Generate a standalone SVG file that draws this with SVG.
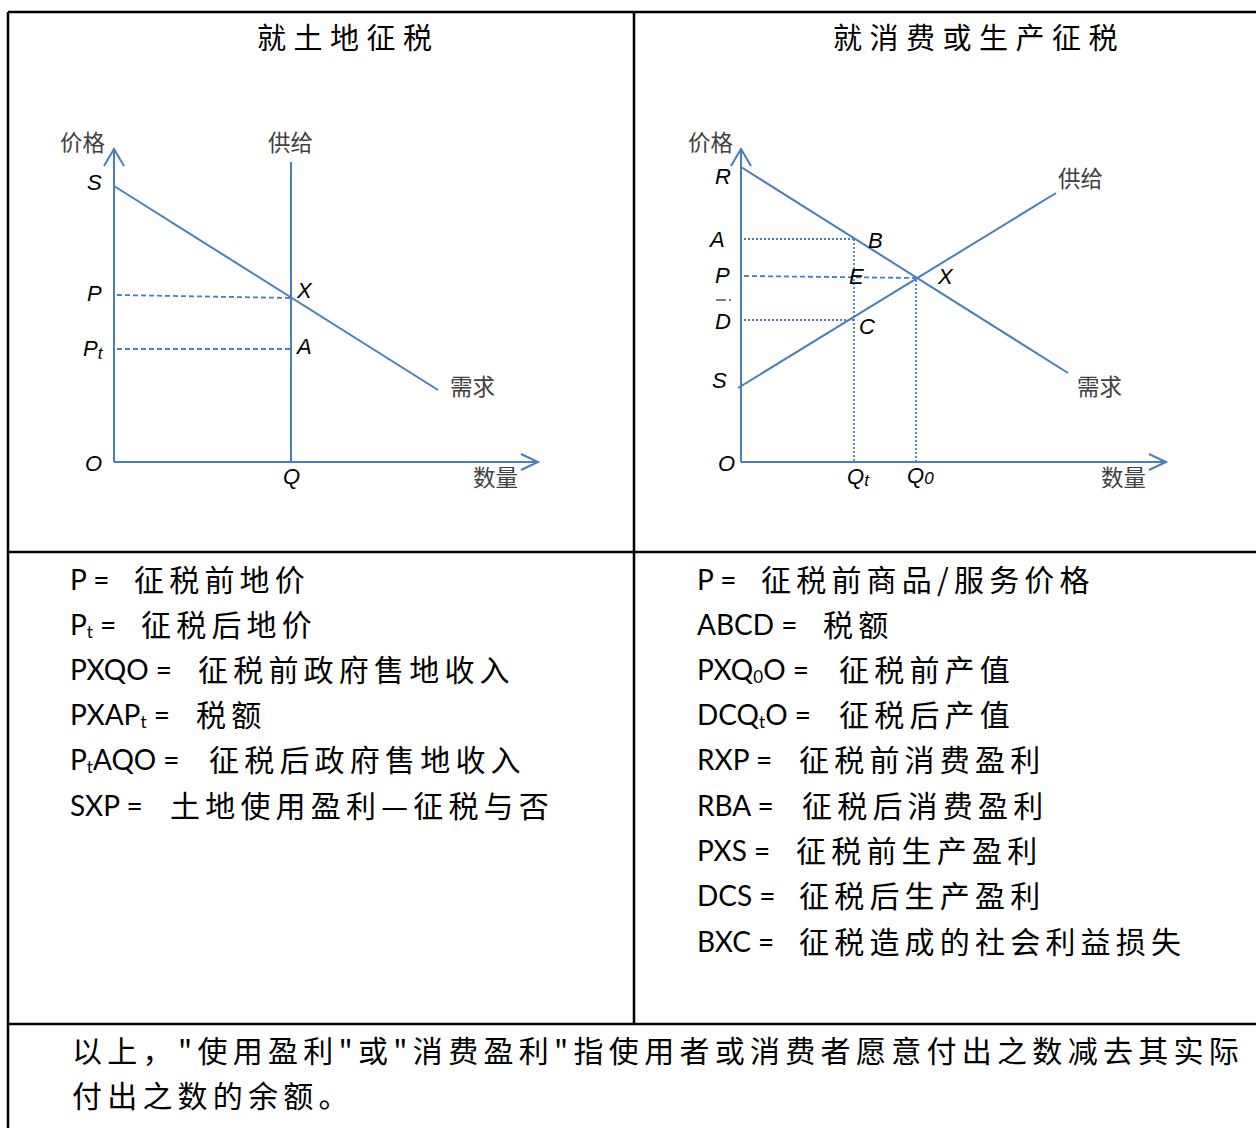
<svg xmlns="http://www.w3.org/2000/svg" width="1256" height="1128" viewBox="0 0 1256 1128">
<style>
.grid{stroke:#000;stroke-width:2.5;fill:none}
.ln{stroke:#4a7ebb;stroke-width:2;fill:none}
.dash{stroke:#4a7ebb;stroke-width:1.8;stroke-dasharray:5 3;fill:none}
.dot{stroke:#4a7ebb;stroke-width:1.8;stroke-dasharray:2 2;fill:none}
.lbl{font-family:"Liberation Sans",Arial,sans-serif;font-style:italic;font-size:22px;fill:#000}
.cn{font-family:"Noto Sans CJK SC",sans-serif;font-size:22.5px;fill:#404040}
.title{font-family:"Noto Sans CJK SC",sans-serif;font-size:29px;letter-spacing:7.5px;fill:#000}
.lat{font-family:Lato,"Liberation Sans",sans-serif;font-size:28px;fill:#000}
.zh{font-family:"Noto Sans CJK SC",sans-serif;font-size:30px;letter-spacing:5.2px;fill:#000}
.sub{font-size:17px}
</style>
<rect width="1256" height="1128" fill="#fff"/>
<g id="table">
<path class="grid" d="M8 12H1256M8 12V1128M634 12V1024M8 552H1256M8 1024H1256"/>
<text class="title" x="257" y="49">就土地征税</text>
<text class="title" x="833" y="49">就消费或生产征税</text>
</g>
<g id="chart-land">
<path class="ln" d="M114 462V149M104 166L114 149L124 166"/>
<path class="ln" d="M114 462H538M521 454L538 462L521 470"/>
<path class="ln" d="M291 162V462"/>
<path class="ln" d="M114 186L438 390"/>
<path class="dash" d="M117 295L291 298"/>
<path class="dash" d="M117 349H291"/>
<text class="cn" x="60" y="151">价格</text>
<text class="cn" x="268" y="151">供给</text>
<text class="cn" x="450" y="395">需求</text>
<text class="cn" x="473" y="486">数量</text>
<text class="lbl" x="87" y="190">S</text>
<text class="lbl" x="87" y="301">P</text>
<text class="lbl" x="83" y="356">P<tspan class="sub" dy="3">t</tspan></text>
<text class="lbl" x="85" y="471">O</text>
<text class="lbl" x="283" y="484">Q</text>
<text class="lbl" x="297" y="298">X</text>
<text class="lbl" x="297" y="354">A</text>
</g>
<g id="chart-consumption">
<path class="ln" d="M741 462V149M731 166L741 149L751 166"/>
<path class="ln" d="M741 462H1166M1149 454L1166 462L1149 470"/>
<path class="ln" d="M741 167L1068 373"/>
<path class="ln" d="M738 388L1056 193"/>
<path class="dot" d="M744 239H853M854 239V462"/>
<path class="dot" d="M744 320H854"/>
<path class="dot" d="M916 280V462"/>
<path class="dash" d="M744 276L916 278"/>
<text class="cn" x="688" y="151">价格</text>
<text class="cn" x="1058" y="187">供给</text>
<text class="cn" x="1077" y="395">需求</text>
<text class="cn" x="1101" y="486">数量</text>
<text class="lbl" x="715" y="184">R</text>
<text class="lbl" x="710" y="247">A</text>
<text class="lbl" x="715" y="283">P</text>
<path d="M716 300H726M729 300H731" stroke="#000" stroke-width="1.2"/>
<text class="lbl" x="715" y="329">D</text>
<text class="lbl" x="712" y="388">S</text>
<text class="lbl" x="718" y="471">O</text>
<text class="lbl" x="868" y="248">B</text>
<text class="lbl" x="849" y="284">E</text>
<text class="lbl" x="859" y="334">C</text>
<text class="lbl" x="938" y="284">X</text>
<text class="lbl" x="847" y="484">Q<tspan class="sub" dy="2">t</tspan></text>
<text class="lbl" x="907" y="483">Q<tspan class="sub" dy="1">0</tspan></text>
</g>
<g id="legend-land">
<text class="lat" x="70" y="590">P =</text><text class="zh" x="134" y="591">征税前地价</text>
<text class="lat" x="70" y="635">P<tspan class="sub" dy="3">t</tspan><tspan dy="-3"> =</tspan></text><text class="zh" x="141" y="636">征税后地价</text>
<text class="lat" x="70" y="680">PXQO =</text><text class="zh" x="198" y="681">征税前政府售地收入</text>
<text class="lat" x="70" y="725">PXAP<tspan class="sub" dy="3">t</tspan><tspan dy="-3"> =</tspan></text><text class="zh" x="196" y="726">税额</text>
<text class="lat" x="70" y="770">P<tspan class="sub" dy="3">t</tspan><tspan dy="-3">AQO =</tspan></text><text class="zh" x="209" y="771">征税后政府售地收入</text>
<text class="lat" x="70" y="816">SXP =</text><text class="zh" x="170" y="817">土地使用盈利—征税与否</text>
</g>
<g id="legend-consumption">
<text class="lat" x="697" y="590">P =</text><text class="zh" x="761" y="591">征税前商品/服务价格</text>
<text class="lat" x="697" y="635">ABCD =</text><text class="zh" x="823" y="636">税额</text>
<text class="lat" x="697" y="680">PXQ<tspan class="sub" dy="3">0</tspan><tspan dy="-3">O =</tspan></text><text class="zh" x="839" y="681">征税前产值</text>
<text class="lat" x="697" y="725">DCQ<tspan class="sub" dy="3">t</tspan><tspan dy="-3">O =</tspan></text><text class="zh" x="839" y="726">征税后产值</text>
<text class="lat" x="697" y="770">RXP =</text><text class="zh" x="799" y="771">征税前消费盈利</text>
<text class="lat" x="697" y="816">RBA =</text><text class="zh" x="802" y="817">征税后消费盈利</text>
<text class="lat" x="697" y="861">PXS =</text><text class="zh" x="796" y="862">征税前生产盈利</text>
<text class="lat" x="697" y="906">DCS =</text><text class="zh" x="799" y="907">征税后生产盈利</text>
<text class="lat" x="697" y="952">BXC =</text><text class="zh" x="799" y="953">征税造成的社会利益损失</text>
</g>
<g id="note">
<text class="zh" x="72" y="1062" textLength="1172" lengthAdjust="spacing">以上，"使用盈利"或"消费盈利"指使用者或消费者愿意付出之数减去其实际</text>
<text class="zh" x="72" y="1107">付出之数的余额。</text>
</g>
</svg>
